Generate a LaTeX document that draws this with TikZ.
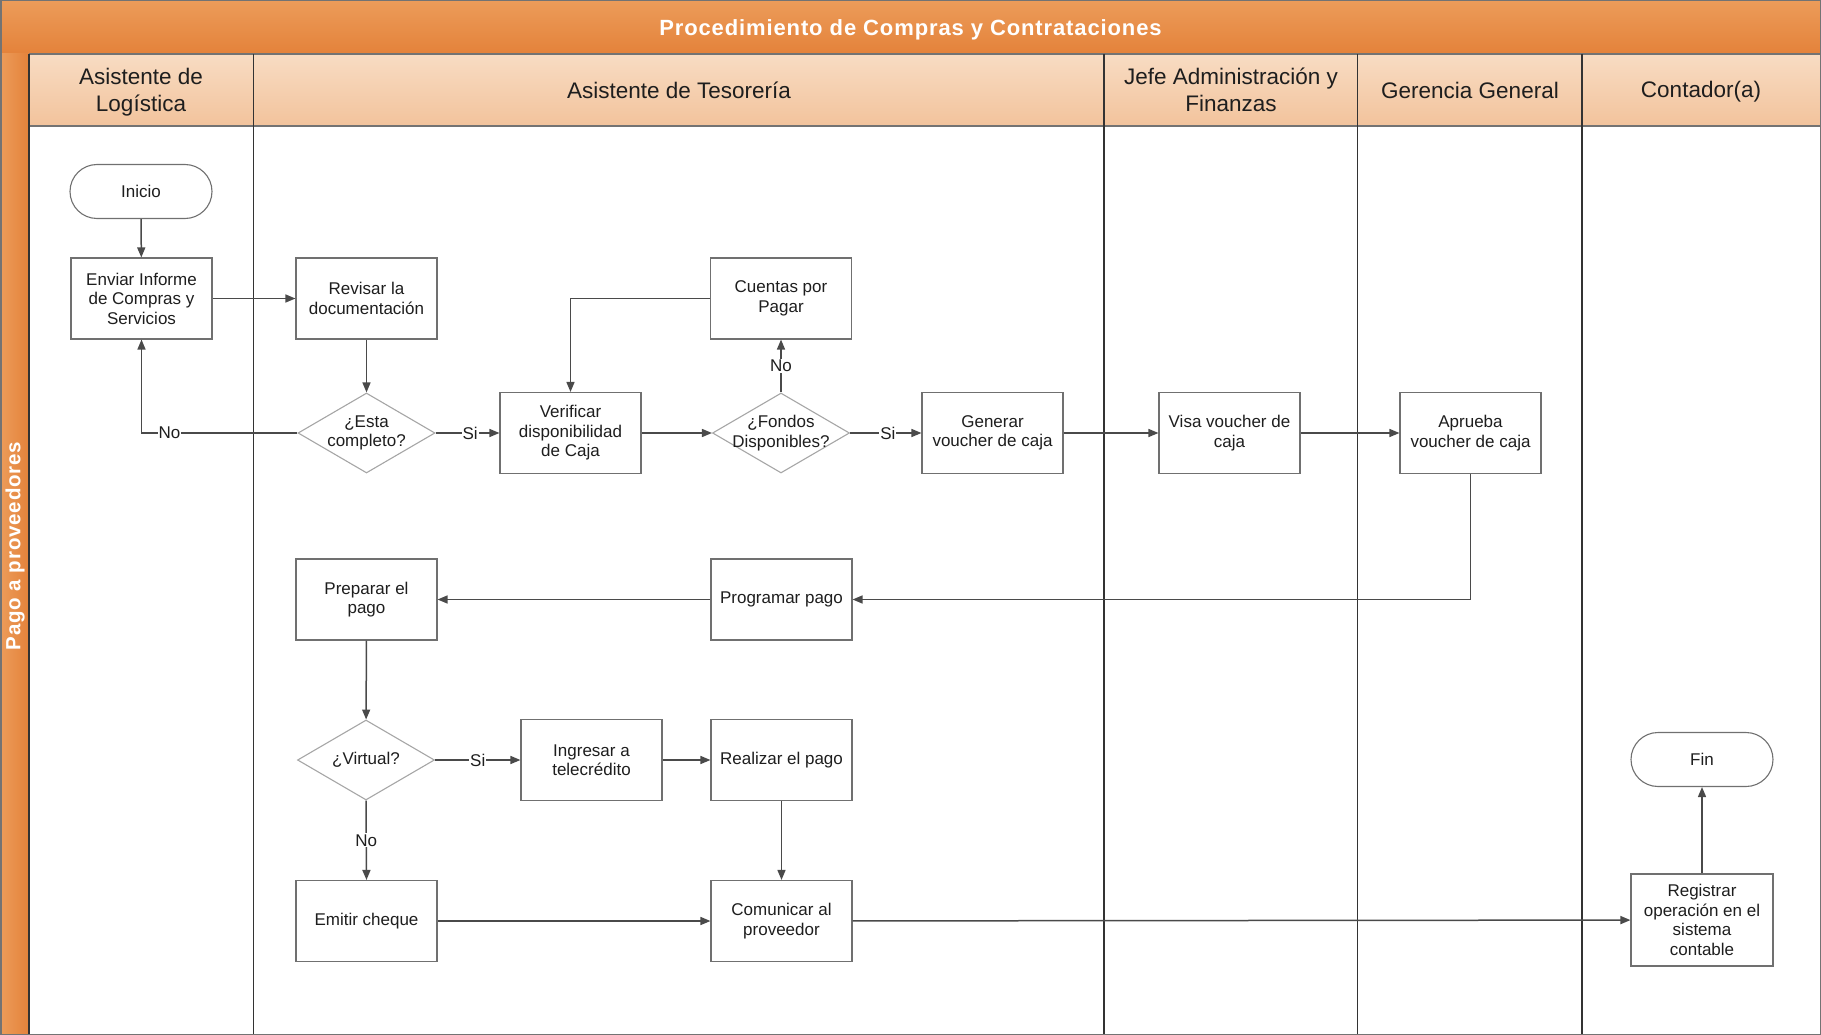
\documentclass[tikz,border=0pt]{standalone}
\usepackage{fontspec}
\setmainfont{Liberation Sans}
\newfontfamily\titlefont[LetterSpace=4]{Liberation Sans}
\usetikzlibrary{shapes.geometric,arrows.meta,calc}
\definecolor{orA}{HTML}{EC9C5A}
\definecolor{orB}{HTML}{E4823A}
\definecolor{pchA}{HTML}{F8DCC3}
\definecolor{pchB}{HTML}{F2C39C}
\definecolor{lnc}{HTML}{4A4A4A}
\definecolor{boxc}{HTML}{707070}
\definecolor{decc}{HTML}{A6A6A6}
\definecolor{txc}{HTML}{1E1E1E}
\begin{document}
\begin{tikzpicture}[x=1pt,y=-1pt,
  every node/.style={text=txc},
  proc/.style={draw=boxc, line width=1.1pt, fill=white, minimum width=141pt, minimum height=81pt,
    align=center, inner sep=1pt, font=\fontsize{17}{19.5}\selectfont},
  term/.style={draw=boxc, line width=1.1pt, fill=white, minimum width=142pt, minimum height=54pt,
    rounded corners=27pt, align=center, font=\fontsize{17}{19.5}\selectfont},
  dec/.style={draw=decc, line width=1.1pt, fill=white, diamond, minimum width=137pt, minimum height=80pt, inner sep=0pt},
  dectext/.style={align=center, inner sep=0pt, font=\fontsize{17}{19.5}\selectfont},
  flow/.style={draw=lnc, line width=1.5pt, -{Triangle[length=10pt,width=8pt]}},
  lbl/.style={fill=white, inner sep=1pt, text=txc, font=\fontsize{17}{19}\selectfont},
  lanehdr/.style={align=center, font=\fontsize{22.5}{26.5}\selectfont, text=txc},
  lane/.style={draw=black!80, line width=1.1pt}
]
\useasboundingbox (0,0) rectangle (1821,1035);
% title bar
\shade[top color=orA, bottom color=orB] (0,0) rectangle (1821,54);
\node[text=white, font=\titlefont\bfseries\fontsize{22}{26}\selectfont] (title) at (910.5,30) {Procedimiento de Compras y Contrataciones};
% header row
\shade[top color=pchA, bottom color=pchB] (29,54) rectangle (1821,126);
\draw[draw=black!55, line width=1.2pt] (29,126) -- (1821,126);
\draw[draw=black!55, line width=1.2pt] (0,54) -- (1821,54);
% left bar
\shade[left color=orA, right color=orB] (0,54) rectangle (29,1035);
\node[rotate=90, text=white, font=\titlefont\bfseries\fontsize{20.5}{24}\selectfont] (pool) at (15,546) {Pago a proveedores};
% lane lines
\draw[lane] (29,54) -- (29,1034);
\draw[lane] (253.5,54) -- (253.5,1034);
\draw[lane] (1104,54) -- (1104,1034);
\draw[lane] (1357.5,54) -- (1357.5,1034);
\draw[lane] (1582,54) -- (1582,1034);
% outer frame
\draw[draw=black!55, line width=1.5pt] (0.75,0.75) rectangle (1820.25,1034.25);
% lane headers
\node[lanehdr] (h1) at (141,92) {Asistente de\\Logística};
\node[lanehdr] (h2) at (679,90) {Asistente de Tesorería};
\node[lanehdr] (h3) at (1231,90) {Jefe Administración y\\Finanzas};
\node[lanehdr] (h4) at (1470,90) {Gerencia General};
\node[lanehdr] (h5) at (1701,92) {Contador(a)};
% nodes
\node[term] (inicio) at (141,191.5) {Inicio};
\node[proc] (enviar) at (141.5,298.5) {Enviar Informe\\de Compras y\\Servicios};
\node[proc] (revisar) at (366.5,298.5) {Revisar la\\documentación};
\node[dec] (d1) at (366.5,433) {};
\node[dectext] (d1t) at (366.5,433) {¿Esta\\completo?};
\node[proc] (verif) at (570.5,433) {Verificar\\disponibilidad\\de Caja};
\node[proc] (cuentas) at (781,298.5) {Cuentas por\\Pagar};
\node[dec] (d2) at (781,433) {};
\node[dectext] (d2t) at (781,433) {¿Fondos\\Disponibles?};
\node[proc] (generar) at (992.5,433) {Generar\\voucher de caja};
\node[proc] (visa) at (1229.5,433) {Visa voucher de\\caja};
\node[proc] (aprueba) at (1470.5,433) {Aprueba\\voucher de caja};
\node[proc] (programar) at (781.5,599.5) {Programar pago};
\node[proc] (preparar) at (366.5,599.5) {Preparar el\\pago};
\node[dec] (d3) at (366,760) {};
\node[dectext] (d3t) at (366,760) {¿Virtual?};
\node[proc] (ingresar) at (591.5,760) {Ingresar a\\telecrédito};
\node[proc] (realizar) at (781.5,760) {Realizar el pago};
\node[proc] (emitir) at (366.5,921) {Emitir cheque};
\node[proc] (comunicar) at (781.5,921) {Comunicar al\\proveedor};
\node[proc, minimum width=142pt, minimum height=92pt] (registrar) at (1702,920) {Registrar\\operación en el\\sistema\\contable};
\node[term] (fin) at (1702,759.5) {Fin};
% connectors
\draw[flow] (inicio) -- (enviar);
\draw[flow] (enviar) -- (revisar);
\draw[flow] (revisar) -- (d1);
\draw[flow] (d1.west) -| node[lbl, pos=0.41] {No} (enviar.south);
\draw[flow] (d1.east) -- node[lbl, pos=0.54] {Si} (verif.west);
\draw[flow] (verif) -- (d2);
\draw[flow] (d2.north) -- node[lbl, pos=0.5] {No} (cuentas.south);
\draw[flow] (cuentas.west) -| (verif.north);
\draw[flow] (d2.east) -- node[lbl, pos=0.53] {Si} (generar.west);
\draw[flow] (generar) -- (visa);
\draw[flow] (visa) -- (aprueba);
\draw[flow] (aprueba.south) |- (programar.east);
\draw[flow] (programar) -- (preparar);
\draw[flow] (preparar) -- (d3);
\draw[flow] (d3.east) -- node[lbl, pos=0.5] {Si} (ingresar.west);
\draw[flow] (ingresar) -- (realizar);
\draw[flow] (realizar) -- (comunicar);
\draw[flow] (d3.south) -- node[lbl, pos=0.5] {No} (emitir.north);
\draw[flow] (emitir) -- (comunicar);
\draw[flow] (comunicar) -- (registrar);
\draw[flow] (registrar) -- (fin);
\end{tikzpicture}
\end{document}
